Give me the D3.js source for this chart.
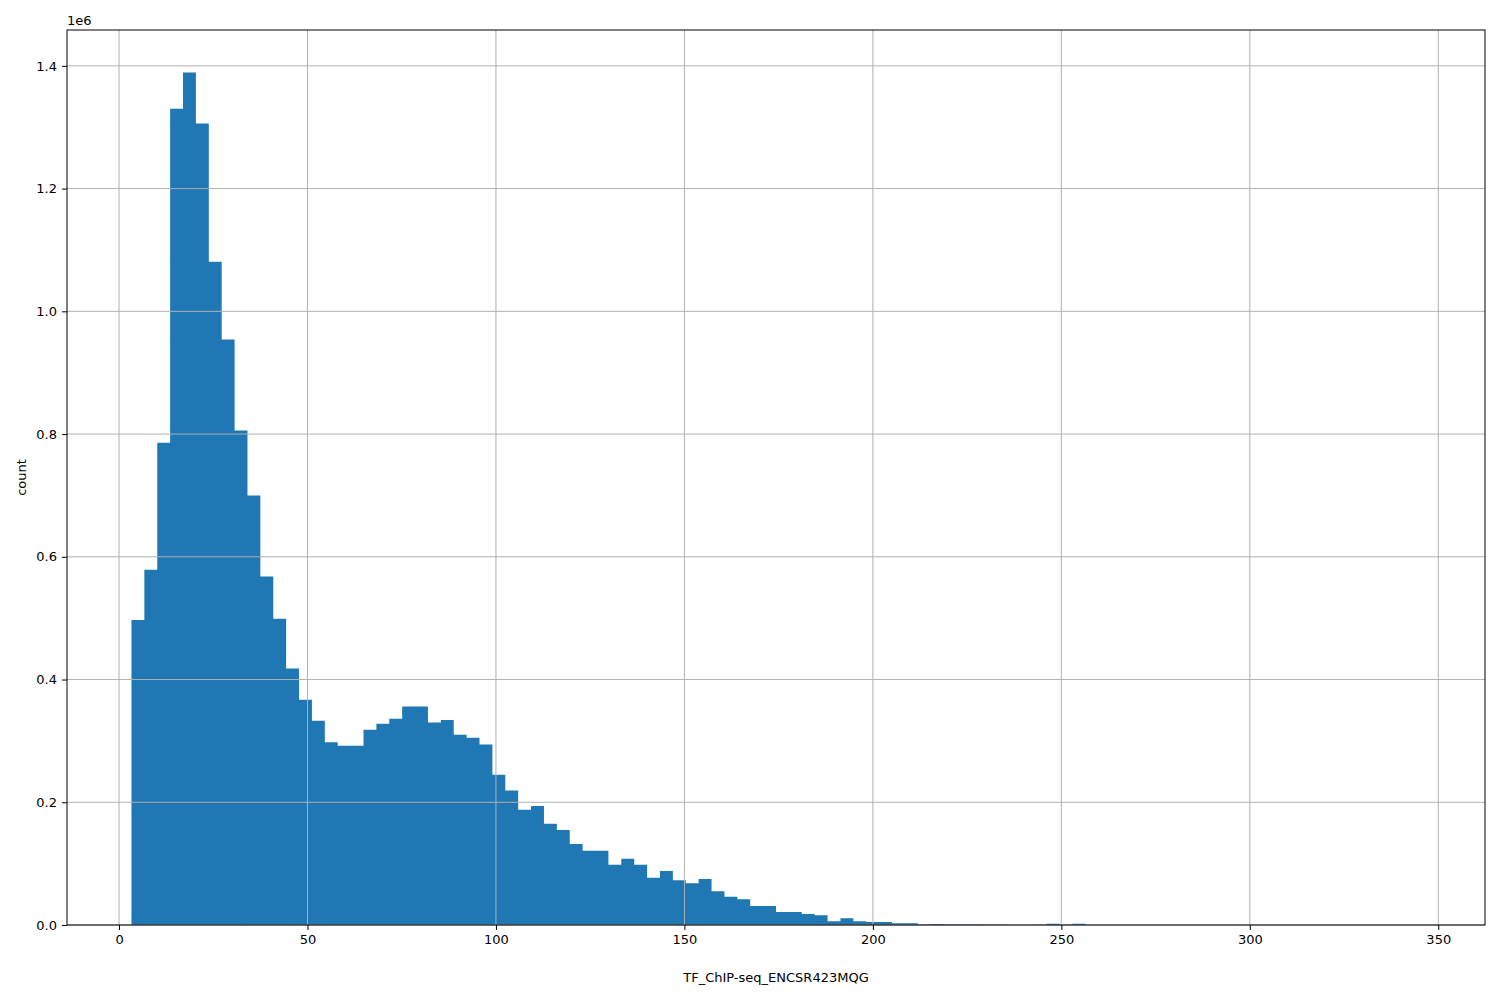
<!DOCTYPE html>
<html>
<head>
<meta charset="UTF-8">
<script src="https://d3js.org/d3.v7.min.js"></script>
<style>
  body { margin: 0; background: #fff; }
  text { font-family: "DejaVu Sans", sans-serif; }
</style>
</head>
<body>
<svg id="chart" width="1500" height="1000"></svg>
<script>
// histogram: 100 bins between binMin and binMax
const binMin = 3.3, binMax = 345.3;
const counts = [
  497000, 579000, 786000, 1330000, 1389000, 1306000, 1081000, 954000, 806000, 700000,
  568000, 499000, 418000, 367000, 333000, 298000, 292000, 292000, 318000, 328000,
  336000, 356000, 356000, 330000, 334000, 310000, 305000, 294000, 245000, 219000,
  188000, 194000, 165000, 155000, 132000, 121000, 121000, 98000, 108000, 98000,
  77000, 88000, 73000, 68000, 75000, 55000, 46000, 42000, 31000, 31000,
  21000, 21000, 18000, 16000, 6000, 11000, 6000, 5000, 5000, 3000,
  3000, 1000, 1500, 1000, 1000, 1000, 500, 300, 200, 200,
  300, 2000, 300, 2000, 200, 100, 100, 100, 0, 0,
  0, 0, 0, 0, 0, 0, 0, 0, 0, 0,
  0, 0, 0, 0, 0, 0, 0, 0, 0, 100
];
const xTicks = [0, 50, 100, 150, 200, 250, 300, 350];
const yTicks = [0, 0.2e6, 0.4e6, 0.6e6, 0.8e6, 1.0e6, 1.2e6, 1.4e6];
const xLabel = "TF_ChIP-seq_ENCSR423MQG";
const yLabel = "count";

const svg = d3.select("#chart");
const L = 67, R = 1485, T = 30, B = 925;
const span = binMax - binMin;
const x = d3.scaleLinear().domain([binMin - 0.05 * span, binMax + 0.05 * span]).range([L, R]);
const y = d3.scaleLinear().domain([0, 1389000 * 1.05]).range([B, T]);
const w = span / counts.length;

// bars as one path so no seams appear between neighbours
const barPath = d3.path();
counts.forEach((d, i) => {
  if (d <= 0) return;
  const x0 = x(binMin + i * w), x1 = x(binMin + (i + 1) * w);
  barPath.rect(x0, y(d), x1 - x0, B - y(d));
});
svg.append("path").attr("d", barPath.toString()).attr("fill", "#1f77b4");

// grid on top of bars
const grid = svg.append("g").attr("stroke", "#b0b0b0").attr("stroke-width", 1);
xTicks.forEach(t => grid.append("line").attr("x1", x(t)).attr("x2", x(t)).attr("y1", T).attr("y2", B));
yTicks.forEach(t => grid.append("line").attr("x1", L).attr("x2", R).attr("y1", y(t)).attr("y2", y(t)));

const xAxis = svg.append("g").attr("transform", `translate(0,${B})`)
  .call(d3.axisBottom(x).tickValues(xTicks).tickSize(5).tickPadding(5).tickFormat(d3.format("d")));
const yAxis = svg.append("g").attr("transform", `translate(${L},0)`)
  .call(d3.axisLeft(y).tickValues(yTicks).tickSize(5).tickPadding(5).tickFormat(d => (d / 1e6).toFixed(1)));
[xAxis, yAxis].forEach(a => {
  a.select(".domain").remove();
  a.selectAll("text").attr("font-size", 13).attr("fill", "#000").attr("font-family", "DejaVu Sans");
  a.selectAll("line").attr("stroke", "#000");
});

svg.append("rect").attr("x", L).attr("y", T).attr("width", R - L).attr("height", B - T)
  .attr("fill", "none").attr("stroke", "#000").attr("stroke-width", 1);

svg.append("text").attr("x", L).attr("y", 25).attr("font-size", 13).text("1e6");
svg.append("text").attr("x", (L + R) / 2).attr("y", 982).attr("text-anchor", "middle")
  .attr("font-size", 13).text(xLabel);
svg.append("text").attr("transform", `translate(26,${(T + B) / 2}) rotate(-90)`)
  .attr("text-anchor", "middle").attr("font-size", 13).text(yLabel);
</script>
</body>
</html>
